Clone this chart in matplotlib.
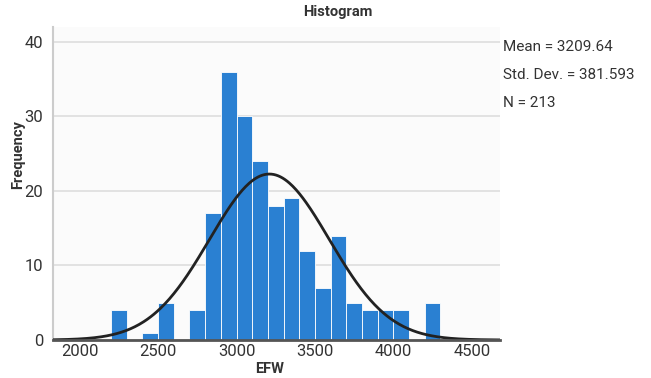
import numpy as np
import matplotlib
matplotlib.use("Agg")
import matplotlib.pyplot as plt

# histogram of EFW, bins of width 100
bin_left = [2200, 2300, 2400, 2500, 2600, 2700, 2800, 2900, 3000, 3100, 3200,
            3300, 3400, 3500, 3600, 3700, 3800, 3900, 4000, 4100, 4200]
counts = [4, 0, 1, 5, 0, 4, 17, 36, 30, 24, 18, 19, 12, 7, 14, 5, 4, 4, 4, 0, 5]
bin_width = 100
mean = 3209.64
std = 381.593
n = 213
xticks = [2000, 2500, 3000, 3500, 4000, 4500]
yticks = [0, 10, 20, 30, 40]

plt.rcParams['font.family'] = ['Roboto', 'DejaVu Sans']

fig = plt.figure(figsize=(6.51, 3.78), dpi=100)
ax = fig.add_axes([53 / 651, 1 - 340 / 378, 447 / 651, 313 / 378])
ax.set_facecolor('#fbfbfb')

ax.bar(bin_left, counts, width=bin_width, align='edge', color='#2a80d2',
       edgecolor='white', linewidth=0.6, zorder=2)

# normal curve scaled to counts
xs = np.linspace(1830, 4680, 400)
ys = n * bin_width / (std * np.sqrt(2 * np.pi)) * np.exp(-0.5 * ((xs - mean) / std) ** 2)
ax.plot(xs, ys, color='#222222', linewidth=2, zorder=3)

ax.set_xlim(1830, 4680)
ax.set_ylim(0, 42)
ax.set_xticks(xticks)
ax.set_yticks(yticks)
ax.tick_params(axis='both', length=0, labelsize=12, colors='#333333', pad=3)
ax.tick_params(axis='y', pad=7)
ax.grid(axis='y', color='#dddddd', linewidth=1.2, zorder=0)
for s in ['top', 'right']:
    ax.spines[s].set_visible(False)
ax.spines['left'].set_color('#cccccc')
ax.spines['left'].set_linewidth(1.5)
ax.spines['bottom'].set_color('#555555')
ax.spines['bottom'].set_linewidth(2)
ax.spines['bottom'].set_zorder(4)

fig.text(338 / 651, 1 - 12 / 378, 'Histogram', ha='center', va='center',
         fontsize=10.5, fontweight='bold', color='#333333')
fig.text(270 / 651, 1 - 369 / 378, 'EFW', ha='center', va='center',
         fontsize=10.5, fontweight='bold', color='#333333')
fig.text(18 / 651, 1 - 155 / 378, 'Frequency', ha='center', va='center',
         rotation=90, fontsize=10.5, fontweight='bold', color='#333333')

stats = ['Mean = 3209.64', 'Std. Dev. = 381.593', 'N = 213']
for i, s in enumerate(stats):
    fig.text(503 / 651, 1 - (47 + 28 * i) / 378, s, ha='left', va='center',
             fontsize=11, color='#333333')

fig.savefig('out.png', dpi=100)
